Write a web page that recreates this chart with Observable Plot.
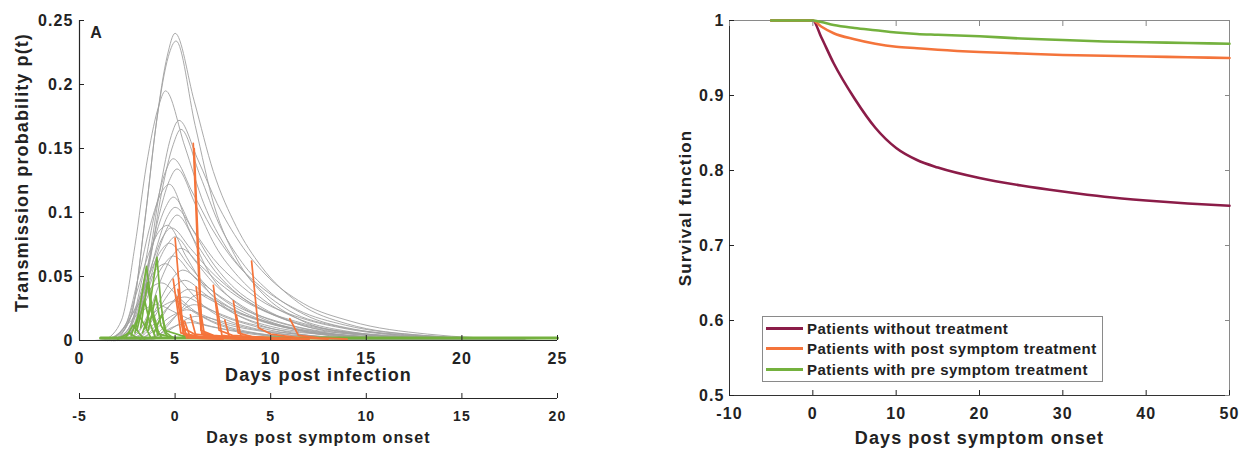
<!DOCTYPE html>
<html><head><meta charset="utf-8">
<script src="https://cdn.jsdelivr.net/npm/d3@7"></script>
<script src="https://cdn.jsdelivr.net/npm/@observablehq/plot@0.6"></script>
<style>
html,body{margin:0;padding:0;background:#fff;}
#wrap{position:relative;width:1256px;height:450px;overflow:hidden;font-family:"Liberation Sans",Arial,sans-serif;}
#wrap > div{position:absolute;}
#legend{box-sizing:border-box;width:341px;height:66px;border:1px solid #8a8a8a;background:#fff;padding:1px 0 0 3px;}
#legend .row{display:flex;align-items:center;height:20.5px;font-weight:bold;font-size:15px;letter-spacing:0.5px;color:#222;white-space:nowrap;}
#legend .sw{width:37px;height:2.6px;margin-right:4px;}
</style></head><body>
<div id="wrap">
  <div id="left" style="left:0;top:0"></div>
  <div id="left2" style="left:0;top:375px"></div>
  <div id="right" style="left:640px;top:0"></div>
  <div id="legend" style="left:762px;top:316px"></div>
</div>
<script>
// ---------- Panel A data: transmission probability curves (days post infection, p) ----------
const greyCurves = [
  [[1.8,0],[2.7,.019],[3.4,.091],[4.0,.168],[4.6,.223],[5.0,.240],[6.0,.187],[7.0,.132],[8.2,.089],[9.5,.058],[11.5,.029],[14,.013],[18,.004],[23,.001]],
  [[1.85,0],[2.75,.023],[3.45,.098],[4.05,.173],[4.65,.222],[5.05,.234],[6.05,.168],[7.05,.105],[8.25,.063],[9.55,.037],[11.55,.016],[14.05,.006],[18.05,.002],[23.05,0]],
  [[1.3,0],[2.2,.016],[2.9,.074],[3.5,.137],[4.1,.181],[4.5,.195],[5.5,.152],[6.5,.107],[7.7,.072],[9.0,.047],[11.0,.023],[13.5,.011],[17.5,.004],[22.5,.001]],
  [[2.0,0],[2.9,.012],[3.6,.060],[4.2,.117],[4.8,.160],[5.2,.172],[6.2,.141],[7.2,.107],[8.4,.076],[9.7,.052],[11.7,.029],[14.2,.015],[18.2,.005],[23.2,.001]],
  [[2.1,0],[3.0,.013],[3.7,.063],[4.3,.116],[4.9,.153],[5.3,.165],[6.3,.129],[7.3,.091],[8.5,.061],[9.8,.040],[11.8,.020],[14.3,.009],[18.3,.003],[23.3,.001]],
  [[1.7,0],[2.6,.010],[3.3,.050],[3.9,.097],[4.5,.132],[4.9,.142],[5.9,.116],[6.9,.088],[8.1,.062],[9.4,.043],[11.4,.024],[13.9,.012],[17.9,.004],[22.9,.001]],
  [[1.9,0],[2.8,.011],[3.5,.051],[4.1,.094],[4.7,.125],[5.1,.134],[6.1,.105],[7.1,.074],[8.3,.050],[9.6,.032],[11.6,.016],[14.1,.007],[18.1,.002],[23.1,.001]],
  [[1.5,0],[2.4,.012],[3.1,.051],[3.7,.090],[4.3,.116],[4.7,.122],[5.7,.088],[6.7,.055],[7.9,.033],[9.2,.020],[11.2,.009],[13.7,.003],[17.7,.001],[22.7,0]],
  [[1.7,0],[2.6,.009],[3.3,.043],[3.9,.078],[4.5,.104],[4.9,.112],[5.9,.087],[6.9,.062],[8.1,.041],[9.4,.027],[11.4,.013],[13.9,.006],[17.9,.002],[22.9,0]],
  [[1.8,0],[2.7,.007],[3.4,.036],[4.0,.071],[4.6,.097],[5.0,.104],[6.0,.085],[7.0,.064],[8.2,.046],[9.5,.031],[11.5,.018],[14,.009],[18,.003],[23,.001]],
  [[1.9,0],[2.8,.008],[3.5,.037],[4.1,.069],[4.7,.091],[5.1,.098],[6.1,.076],[7.1,.054],[8.3,.036],[9.6,.024],[11.6,.012],[14.1,.005],[18.1,.002],[23.1,0]],
  [[1.4,0],[2.3,.009],[3.0,.038],[3.6,.067],[4.2,.086],[4.6,.090],[5.6,.065],[6.6,.041],[7.8,.024],[9.1,.014],[11.1,.006],[13.6,.002],[17.6,.001],[22.6,0]],
  [[1.8,0],[2.7,.006],[3.4,.031],[4.0,.057],[4.6,.075],[5.0,.081],[6.0,.063],[7.0,.045],[8.2,.030],[9.5,.019],[11.5,.010],[14,.004],[18,.001],[23,0]],
  [[1.5,0],[2.4,.006],[3.1,.029],[3.7,.053],[4.3,.071],[4.7,.076],[5.7,.059],[6.7,.042],[7.9,.028],[9.2,.018],[11.2,.009],[13.7,.004],[17.7,.001],[22.7,0]],
  [[2.1,0],[3.0,.005],[3.7,.025],[4.3,.049],[4.9,.067],[5.3,.072],[6.3,.059],[7.3,.045],[8.5,.032],[9.8,.022],[11.8,.012],[14.3,.006],[18.3,.002],[23.3,.001]],
  [[1.7,0],[2.6,.005],[3.3,.025],[3.9,.046],[4.5,.061],[4.9,.066],[5.9,.051],[6.9,.036],[8.1,.024],[9.4,.016],[11.4,.008],[13.9,.004],[17.9,.001],[22.9,0]],
  [[1.3,0],[2.2,.006],[2.9,.025],[3.5,.044],[4.1,.057],[4.5,.060],[5.5,.043],[6.5,.027],[7.7,.016],[9.0,.010],[11.0,.004],[13.5,.002],[17.5,0],[22.5,0]],
  [[2.2,0],[3.1,.004],[3.8,.019],[4.4,.037],[5.0,.051],[5.4,.055],[6.4,.045],[7.4,.034],[8.6,.024],[9.9,.017],[11.9,.009],[14.4,.005],[18.4,.002],[23.4,0]],
  [[2.3,0],[3.2,.004],[3.9,.018],[4.5,.033],[5.1,.044],[5.5,.047],[6.5,.037],[7.5,.026],[8.7,.017],[10.0,.011],[12.0,.006],[14.5,.003],[18.5,.001],[23.5,0]],
  [[2.5,0],[3.4,.003],[4.1,.014],[4.7,.027],[5.3,.037],[5.7,.040],[6.7,.033],[7.7,.025],[8.9,.018],[10.2,.012],[12.2,.007],[14.7,.003],[18.7,.001],[23.7,0]],
  [[2.3,0],[3.2,.003],[3.9,.013],[4.5,.024],[5.1,.032],[5.5,.034],[6.5,.027],[7.5,.019],[8.7,.013],[10.0,.008],[12.0,.004],[14.5,.002],[18.5,.001],[23.5,0]],
  [[1.8,0],[2.7,.003],[3.4,.013],[4.0,.023],[4.6,.029],[5.0,.031],[6.0,.022],[7.0,.014],[8.2,.008],[9.5,.005],[11.5,.002],[14,.001],[18,0],[23,0]],
  [[2.8,0],[3.7,.002],[4.4,.010],[5.0,.019],[5.6,.026],[6.0,.028],[7.0,.023],[8.0,.017],[9.2,.012],[10.5,.008],[12.5,.005],[15,.002],[19,.001],[24,0]],
  [[2.4,0],[3.3,.002],[4.0,.009],[4.6,.017],[5.2,.022],[5.6,.024],[6.6,.019],[7.6,.013],[8.8,.009],[10.1,.006],[12.1,.003],[14.6,.001],[18.6,0],[23.6,0]],
  [[3.0,0],[3.9,.001],[4.6,.007],[5.2,.013],[5.8,.018],[6.2,.019],[7.2,.016],[8.2,.012],[9.4,.008],[10.7,.006],[12.7,.003],[15.2,.002],[19.2,.001],[24.2,0]],
  [[2.6,0],[3.5,.001],[4.2,.005],[4.8,.010],[5.4,.013],[5.8,.014],[6.8,.011],[7.8,.008],[9.0,.005],[10.3,.003],[12.3,.002],[14.8,.001],[18.8,0],[23.8,0]],
  [[1.1,0],[2.0,.005],[2.7,.019],[3.3,.033],[3.9,.043],[4.3,.045],[5.3,.032],[6.3,.020],[7.5,.012],[8.8,.007],[10.8,.003],[13.3,.001],[17.3,0],[22.3,0]],
  [[3.1,0],[4.0,.003],[4.7,.013],[5.3,.024],[5.9,.034],[6.3,.036],[7.3,.030],[8.3,.022],[9.5,.016],[10.8,.011],[12.8,.006],[15.3,.003],[19.3,.001],[24.3,0]],
  [[0.8,0],[1.7,.002],[2.4,.011],[3.0,.020],[3.6,.026],[4.0,.028],[5.0,.022],[6.0,.015],[7.2,.010],[8.5,.007],[10.5,.003],[13,.002],[17,.001],[22,0]],
  [[1.6,0],[2.5,.006],[3.2,.031],[3.8,.060],[4.4,.082],[4.8,.088],[5.8,.072],[6.8,.055],[8.0,.039],[9.3,.026],[11.3,.015],[13.8,.007],[17.8,.003],[22.8,.001]]
];
// treated after symptom onset (orange)
const orangeSegments = [
  [[5.95,.154],[6.35,.008],[7.0,.004],[8.5,.002],[11,.001]],
  [[6.0,.150],[6.4,.006],[7.2,.003],[9.0,.002],[11,.001]],
  [[5.0,.080],[5.4,.010],[6.0,.005],[8.0,.002],[10.5,.001]],
  [[4.9,.048],[5.3,.006],[6.2,.003],[9.0,.001]],
  [[5.1,.034],[5.45,.004],[6.5,.002],[9.0,.001]],
  [[5.15,.040],[5.45,.005],[6.8,.002],[9.5,.001]],
  [[5.25,.024],[5.6,.003],[7.0,.002],[10,.001]],
  [[5.35,.018],[5.6,.002],[7.5,.001]],
  [[7.0,.043],[7.3,.008],[8.0,.004],[10,.002],[12,.001]],
  [[7.15,.030],[7.45,.004],[8.5,.002],[11,.001]],
  [[8.05,.031],[8.3,.006],[9.0,.003],[11.5,.001]],
  [[8.2,.020],[8.45,.003],[10,.002],[12,.001]],
  [[9.0,.062],[9.35,.010],[10,.005],[11.5,.002],[13,.001]],
  [[11.0,.017],[11.45,.004],[12.5,.002],[14,.001]],
  [[6.1,.042],[6.4,.005],[7.5,.002],[10,.001]],
  [[6.3,.026],[6.55,.003],[8.0,.002],[10.5,.001]],
  [[5.8,.020],[6.1,.003],[7.5,.002],[9.5,.001]],
  [[7.6,.016],[7.85,.002],[9.5,.001]],
  [[5.5,.015],[5.8,.002],[7.5,.001]]
];
// treated before symptom onset (green)
const greenSegments = [
  [[2.9,.006],[3.2,.030],[3.5,.058],[3.8,.025],[4.15,.005],[5.0,.002]],
  [[3.5,.010],[3.8,.040],[4.05,.065],[4.25,.030],[4.45,.008],[5.5,.003]],
  [[2.7,.004],[3.1,.020],[3.4,.012],[3.7,.003]],
  [[3.0,.008],[3.4,.032],[3.65,.015],[3.95,.003]],
  [[3.3,.006],[3.75,.026],[4.0,.010],[4.3,.002]],
  [[3.6,.008],[4.0,.035],[4.25,.012],[4.6,.003]],
  [[2.4,.002],[2.8,.012],[3.1,.006],[3.4,.001]],
  [[3.9,.006],[4.3,.020],[4.55,.006],[4.9,.002]],
  [[2.0,.001],[2.6,.006],[2.9,.003],[3.2,.001]],
  [[3.2,.010],[3.55,.045],[3.8,.020],[4.1,.004]]
];
const greenBaseline = [[1.1,.002],[25,.002]];
const yTicksLeft = [0, 0.05, 0.1, 0.15, 0.2, 0.25];
const xTicksInfection = [0, 5, 10, 15, 20, 25];
const xTicksOnset = [-5, 0, 5, 10, 15, 20];

// ---------- Panel B data: survival functions ----------
const survDays    = [-5, 0, 1, 2.5, 5, 7.5, 10, 12.5, 15, 20, 25, 30, 35, 40, 45, 50];
const survNoTreat = [1, 1, 0.978, 0.943, 0.896, 0.857, 0.830, 0.814, 0.804, 0.790, 0.780, 0.772, 0.765, 0.760, 0.756, 0.753];
const survPost    = [1, 1, 0.992, 0.983, 0.975, 0.969, 0.965, 0.963, 0.961, 0.958, 0.956, 0.954, 0.953, 0.952, 0.951, 0.950];
const survPre     = [1, 1, 0.998, 0.994, 0.990, 0.987, 0.984, 0.982, 0.981, 0.979, 0.976, 0.974, 0.972, 0.971, 0.970, 0.969];
const legendLabels = ["Patients without treatment", "Patients with post symptom treatment", "Patients with pre symptom treatment"];
const xTicksSurv = [-10, 0, 10, 20, 30, 40, 50];
const yTicksSurv = [0.5, 0.6, 0.7, 0.8, 0.9, 1];

// ---------- styling ----------
const RED = "#8b1c48", ORANGE = "#f4743b", GREEN = "#74b13e", INK = "#222";
const baseStyle = {fontFamily: '"Liberation Sans", Arial, sans-serif', fontWeight: "bold", fontSize: "16px", letterSpacing: "1.1px", color: INK, background: "transparent", overflow: "visible"};
const rows = (curves) => curves.flatMap((c, i) => c.map(([day, v]) => ({id: i, day, v})));
const title = (s, o) => Plot.text([s], {text: d => d, textAnchor: "middle", lineAnchor: "middle", fontWeight: "bold", ...o});

const left = Plot.plot({
  width: 600, height: 390,
  marginLeft: 79, marginRight: 43, marginTop: 20, marginBottom: 50,
  x: {domain: [0, 25]},
  y: {domain: [0, 0.25]},
  style: baseStyle,
  marks: [
    Plot.line(rows(greyCurves), {x: "day", y: "v", z: "id", stroke: "#a0a0a0", strokeWidth: 0.9, curve: "monotone-x"}),
    Plot.line(greenBaseline, {x: d => d[0], y: d => d[1], stroke: GREEN, strokeWidth: 3}),
    Plot.line(rows(orangeSegments), {x: "day", y: "v", z: "id", stroke: ORANGE, strokeWidth: 1.7}),
    Plot.line(rows(greenSegments), {x: "day", y: "v", z: "id", stroke: GREEN, strokeWidth: 1.7}),
    Plot.ruleX([0], {stroke: "#262626", strokeWidth: 1.2}),
    Plot.ruleY([0], {stroke: "#262626", strokeWidth: 1.2}),
    Plot.axisY({ticks: yTicksLeft, tickFormat: d => String(d), tickSize: -5, tickPadding: 11, label: null, fontSize: 16}),
    Plot.axisX({ticks: xTicksInfection, tickFormat: d => String(d), tickSize: -5, tickPadding: 17, label: null, fontSize: 16}),
    title("A", {frameAnchor: "top-left", dx: 17, dy: 12, fontSize: 16}),
    title("Days post infection", {frameAnchor: "bottom", dy: 35, fontSize: 18}),
    title("Transmission probability p(t)", {frameAnchor: "left", dx: -57, dy: -8, rotate: -90, fontSize: 18})
  ]
});
document.getElementById("left").append(left);

const left2 = Plot.plot({
  width: 600, height: 75,
  marginLeft: 79, marginRight: 43, marginTop: 22, marginBottom: 52,
  x: {domain: [-5, 20]},
  y: {domain: [0, 1], axis: null},
  style: baseStyle,
  marks: [
    Plot.ruleY([0], {stroke: "#262626", strokeWidth: 1.2}),
    Plot.axisX({ticks: xTicksOnset, tickFormat: d => String(d), tickSize: -5, tickPadding: 18, label: null, fontSize: 14}),
    title("Days post symptom onset", {frameAnchor: "bottom", dy: 39, fontSize: 16})
  ]
});
document.getElementById("left2").append(left2);

const survRows = (vals) => survDays.map((d, i) => ({day: d, s: vals[i]}));
const right = Plot.plot({
  width: 616, height: 450,
  marginLeft: 89, marginRight: 27, marginTop: 20, marginBottom: 55,
  x: {domain: [-10, 50]},
  y: {domain: [0.5, 1]},
  style: baseStyle,
  marks: [
    Plot.frame({stroke: "#8a8a8a"}),
    Plot.line(survRows(survNoTreat), {x: "day", y: "s", stroke: RED, strokeWidth: 2.6, curve: "monotone-x"}),
    Plot.line(survRows(survPost), {x: "day", y: "s", stroke: ORANGE, strokeWidth: 2.6, curve: "monotone-x"}),
    Plot.line(survRows(survPre), {x: "day", y: "s", stroke: GREEN, strokeWidth: 2.6, curve: "monotone-x"}),
    Plot.ruleX([-10], {stroke: "#333", strokeWidth: 1}),
    Plot.ruleY([0.5], {stroke: "#333", strokeWidth: 1}),
    Plot.axisX({anchor: "bottom", ticks: xTicksSurv, tickFormat: d => String(d), tickSize: -5, tickPadding: 17, label: null, fontSize: 16}),
    Plot.axisX({anchor: "top", ticks: xTicksSurv, tickFormat: () => "", tickSize: -5, label: null, stroke: "#888"}),
    Plot.axisY({anchor: "left", ticks: yTicksSurv, tickFormat: d => String(d), tickSize: -5, tickPadding: 10, label: null, fontSize: 16}),
    Plot.axisY({anchor: "right", ticks: yTicksSurv, tickFormat: () => "", tickSize: -5, label: null, stroke: "#888"}),
    title("Days post symptom onset", {frameAnchor: "bottom", dy: 43, fontSize: 18}),
    title("Survival function", {frameAnchor: "left", dx: -44, rotate: -90, fontSize: 17})
  ]
});
document.getElementById("right").append(right);

// legend
const legendColors = [RED, ORANGE, GREEN];
const lg = document.getElementById("legend");
legendLabels.forEach((label, i) => {
  const row = document.createElement("div");
  row.className = "row";
  const sw = document.createElement("span");
  sw.className = "sw";
  sw.style.background = legendColors[i];
  const tx = document.createElement("span");
  tx.textContent = label;
  row.append(sw, tx);
  lg.append(row);
});
</script>
</body></html>
